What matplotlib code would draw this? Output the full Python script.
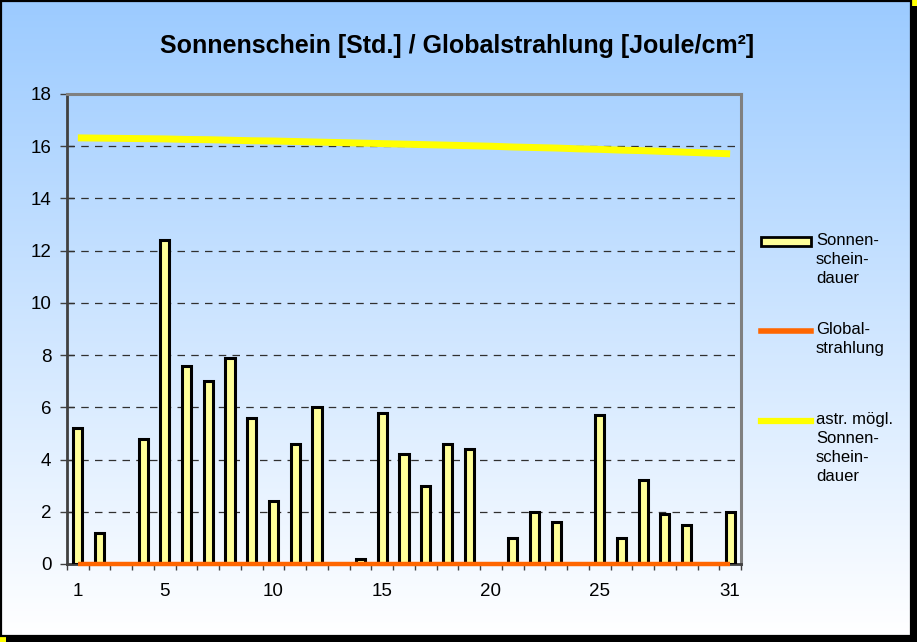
#!/usr/bin/env python3
# -*- coding: utf-8 -*-
"""Sonnenschein / Globalstrahlung: Tageswerte eines Monats als Säulen + Linien."""

import numpy as np
import matplotlib as mpl
import matplotlib.pyplot as plt
from matplotlib.patches import Rectangle
from matplotlib.lines import Line2D

mpl.rcParams.update(
    {
        "font.family": ["Liberation Sans", "DejaVu Sans"],
        "axes.unicode_minus": False,
    }
)

# --------------------------------------------------------------------------- #
# Daten
# --------------------------------------------------------------------------- #
DAYS = list(range(1, 32))
SONNENSCHEIN = [5.2, 1.2, 0.0, 4.8, 12.4, 7.6, 7.0, 7.9, 5.6, 2.4, 4.6, 6.0, 0.0, 0.2, 5.8, 4.2,
                3.0, 4.6, 4.4, 0.0, 1.0, 2.0, 1.6, 0.0, 5.7, 1.0, 3.2, 1.9, 1.5, 0.0, 2.0]
GLOBALSTRAHLUNG = [0.0] * 31
ASTR_MOEGL = [16.32, 16.31, 16.30, 16.29, 16.28, 16.26, 16.25, 16.23, 16.21, 16.20, 16.18,
              16.16, 16.14, 16.12, 16.10, 16.08, 16.06, 16.04, 16.02, 16.00, 15.97, 15.95,
              15.93, 15.90, 15.88, 15.85, 15.83, 15.80, 15.77, 15.74, 15.71]
XTICK_DAYS = [1, 5, 10, 15, 20, 25, 31]
LABELS = ["Sonnen-\nschein-\ndauer", "Global-\nstrahlung", "astr. mögl.\nSonnen-\nschein-\ndauer"]
TITLE = "Sonnenschein [Std.] / Globalstrahlung [Joule/cm²]"

C_BAR = "#ffff99"
C_GLOB = "#ff6600"
C_ASTR = "#ffff00"

W, H = 917, 642


def main():
    fig = plt.figure(figsize=(W / 100, H / 100), dpi=100, facecolor=C_ASTR)

    # Hintergrund, Rahmen, Schatten (Pixelkoordinaten)
    bg = fig.add_axes([0, 0, 1, 1], zorder=0)
    bg.set_xlim(0, W)
    bg.set_ylim(H, 0)
    bg.axis("off")
    bg.add_patch(Rectangle((6, 6), W - 6, H - 6, color="black", lw=0))
    grad = np.linspace(0, 1, 256)[:, None]
    top = np.array([0.612, 0.796, 1.0])
    bot = np.array([1.0, 1.0, 1.0])
    img = top[None, None, :] * (1 - grad[..., None]) + bot[None, None, :] * grad[..., None]
    img = np.repeat(img, 2, axis=1)
    bg.imshow(img, extent=(1, 911, 636, 1), aspect="auto", zorder=1)
    bg.add_patch(Rectangle((1, 1), 910, 635, fill=False, ec="black", lw=1.6, zorder=2))

    bg.text(457, 46, TITLE, ha="center", va="center", fontsize=18, fontweight="bold", zorder=3)

    # Legende (manuell, Symbol auf Höhe der ersten Zeile)
    lx0, lx1, tx = 761, 811, 816
    bg.add_patch(Rectangle((lx0, 237), lx1 - lx0, 9, fc=C_BAR, ec="black", lw=2.0, zorder=3))
    bg.add_line(Line2D([lx0, lx1], [331, 331], color=C_GLOB, lw=4, zorder=3))
    bg.add_line(Line2D([lx0, lx1], [421, 421], color=C_ASTR, lw=4.5, zorder=3))
    for y0, lab in zip([242, 331, 421], LABELS):
        bg.text(tx, y0 - 9, lab, ha="left", va="top", fontsize=12, linespacing=1.33, zorder=3)

    # Diagramm
    ax = fig.add_axes([67 / W, 1 - 564 / H, (741 - 67) / W, (564 - 94) / H], zorder=1)
    ax.set_facecolor("none")
    ax.bar(DAYS, SONNENSCHEIN, width=0.42, color=C_BAR, edgecolor="black", lw=2.2, zorder=3)
    ax.plot(DAYS, GLOBALSTRAHLUNG, color=C_GLOB, lw=3.2, zorder=4, solid_capstyle="butt", clip_on=False)
    ax.plot(DAYS, ASTR_MOEGL, color=C_ASTR, lw=5, zorder=4, solid_capstyle="butt")

    ax.set_xlim(0.5, 31.5)
    ax.set_ylim(0, 18)
    ax.set_yticks(range(0, 19, 2))
    ax.set_xticks(XTICK_DAYS)
    ax.set_xticks(np.arange(0.5, 32, 1), minor=True)
    ax.tick_params(axis="x", which="major", length=0, pad=14, labelsize=13.5)
    ax.tick_params(axis="x", which="minor", length=4.5, width=1.0, color="#404040")
    ax.tick_params(axis="y", direction="inout", length=9.4, width=1.0, color="#404040",
                   pad=6.5, labelsize=13.5)

    for y in range(2, 18, 2):
        ax.axhline(y, color="#303030", lw=0.9, ls=(0, (6, 5)), zorder=2)

    for s in ("top", "right"):
        ax.spines[s].set_color("#808080")
        ax.spines[s].set_linewidth(2.2)
    for s in ("left", "bottom"):
        ax.spines[s].set_color("#404040")
        ax.spines[s].set_linewidth(2.0)

    fig.savefig("out.png", dpi=100, facecolor=fig.get_facecolor())


if __name__ == "__main__":
    main()
